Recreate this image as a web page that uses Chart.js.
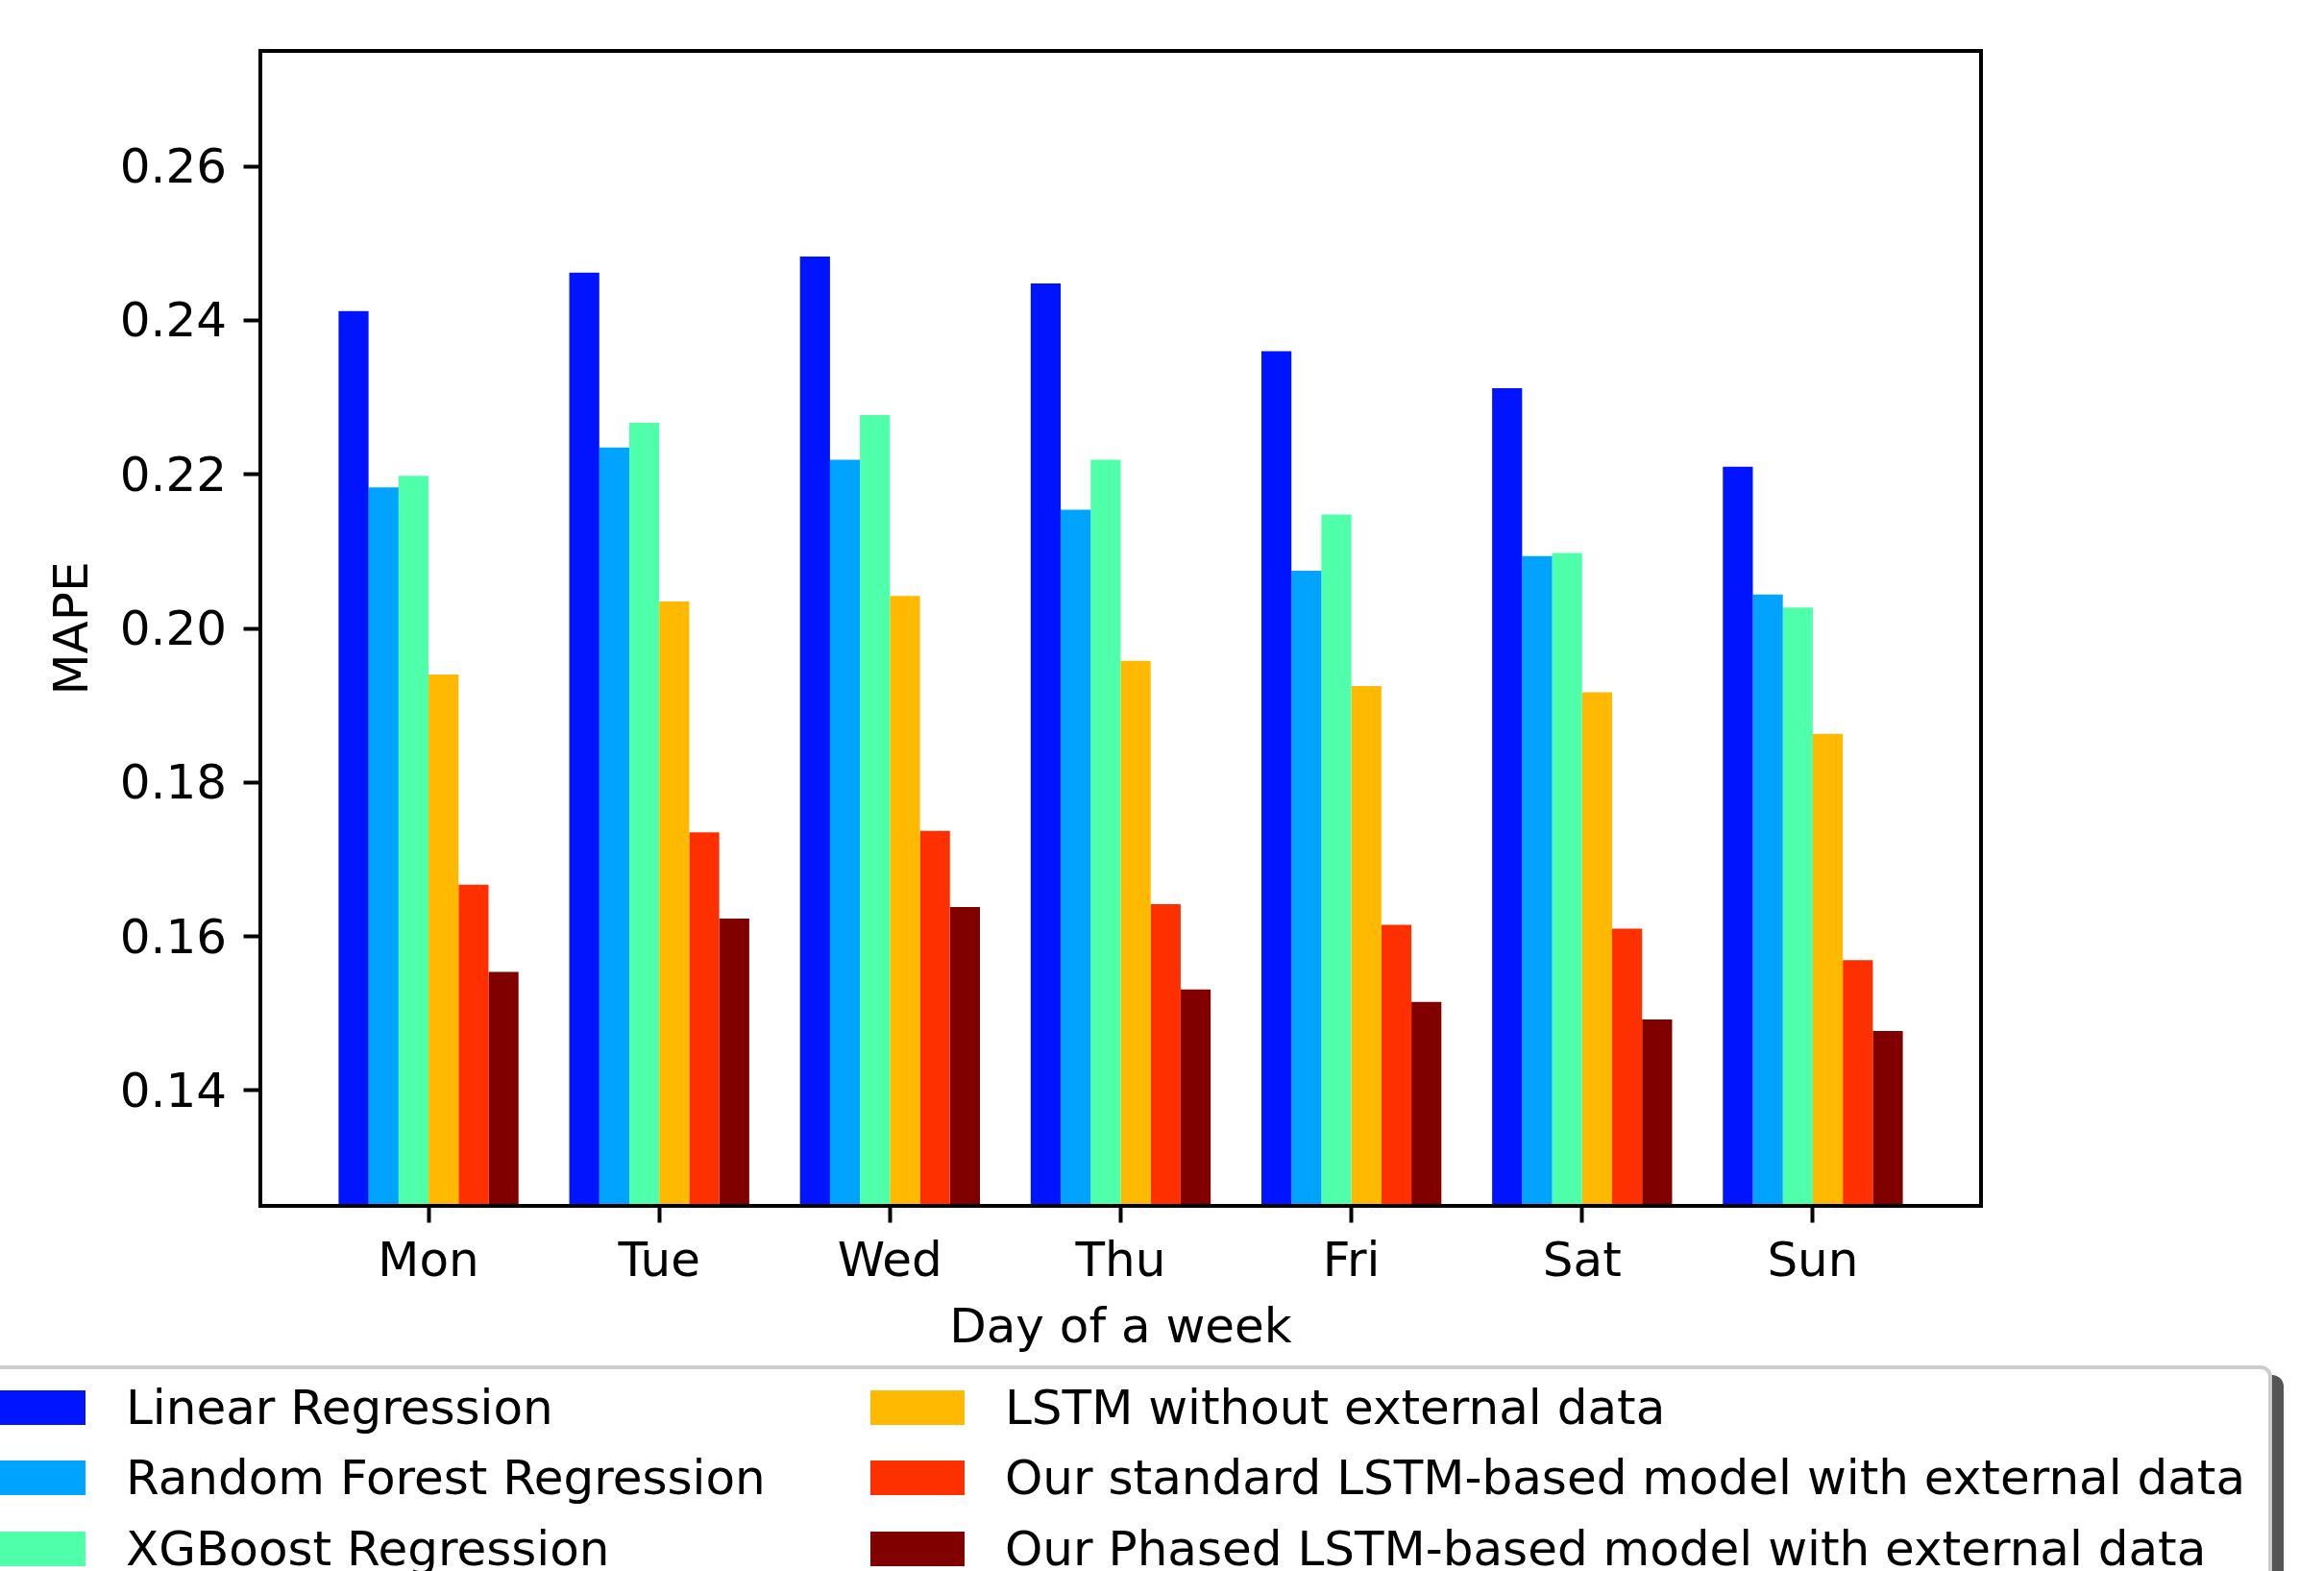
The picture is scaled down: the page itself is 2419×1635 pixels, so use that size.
<!DOCTYPE html>
<html>
<head>
<meta charset="utf-8">
<script src="https://cdn.jsdelivr.net/npm/chart.js@4.4.1/dist/chart.umd.min.js"></script>
<style>
  html, body { margin: 0; padding: 0; background: #fff; overflow: hidden; }
  #wrap { position: relative; width: 2419px; height: 1635px; overflow: hidden; }
  #myChart { display: block; }
  #legend {
    position: absolute; left: -40px; top: 1421px; width: 2405px; height: 260px;
    box-sizing: border-box; border: 4px solid #cccccc; border-radius: 12px;
    background: #fff; box-shadow: 12px 10px 0 #555555;
    font-family: 'DejaVu Sans', sans-serif; font-size: 50px; color: #000;
  }
  .item { position: absolute; display: flex; align-items: center; height: 36px; line-height: 1; white-space: nowrap; }
  .swatch { width: 98px; height: 36px; margin-right: 42px; flex: none; }
</style>
</head>
<body>
<div id="wrap">
  <canvas id="myChart" width="2419" height="1635"></canvas>
  <div id="legend"></div>
</div>
<script>
const days = ['Mon', 'Tue', 'Wed', 'Thu', 'Fri', 'Sat', 'Sun'];

const linearRegression = [0.2412, 0.2462, 0.2483, 0.2448, 0.2360, 0.2312, 0.2210];
const randomForest     = [0.2183, 0.2235, 0.2219, 0.2154, 0.2075, 0.2094, 0.2044];
const xgboost          = [0.2198, 0.2267, 0.2277, 0.2219, 0.2148, 0.2098, 0.2027];
const lstmNoExternal   = [0.1940, 0.2035, 0.2042, 0.1958, 0.1925, 0.1917, 0.1863];
const standardLstm     = [0.1667, 0.1735, 0.1737, 0.1642, 0.1615, 0.1610, 0.1569];
const phasedLstm       = [0.1554, 0.1623, 0.1638, 0.1531, 0.1515, 0.1492, 0.1477];

const seriesNames = [
  'Linear Regression',
  'Random Forest Regression',
  'XGBoost Regression',
  'LSTM without external data',
  'Our standard LSTM-based model with external data',
  'Our Phased LSTM-based model with external data'
];
const seriesValues = [linearRegression, randomForest, xgboost, lstmNoExternal, standardLstm, phasedLstm];
const seriesColors = ['#0014ff', '#00a4ff', '#50ffaa', '#ffb900', '#ff3000', '#800000'];

const yTicks = [0.14, 0.16, 0.18, 0.20, 0.22, 0.24, 0.26];

Chart.defaults.font.family = "'DejaVu Sans', sans-serif";
Chart.defaults.font.size = 50;
Chart.defaults.color = '#000';

// top and right spines
const frame = {
  id: 'frame',
  afterDraw(chart) {
    const { ctx, chartArea } = chart;
    ctx.save();
    ctx.strokeStyle = '#000';
    ctx.lineWidth = 4;
    ctx.beginPath();
    ctx.moveTo(chartArea.left - 2, chartArea.top);
    ctx.lineTo(chartArea.right, chartArea.top);
    ctx.lineTo(chartArea.right, chartArea.bottom + 2);
    ctx.stroke();
    ctx.restore();
  }
};

const axisGrid = {
  display: true,
  offset: false,
  drawOnChartArea: false,
  drawTicks: true,
  tickLength: 17.5,
  tickWidth: 4,
  tickColor: '#000'
};
const axisBorder = { display: true, color: '#000', width: 4, z: 1 };

const ctx = document.getElementById('myChart');
const chart = new Chart(ctx, {
  type: 'bar',
  data: {
    datasets: seriesNames.map((name, i) => ({
      label: name,
      data: seriesValues[i].map((v, j) => ({ x: j, y: v })),
      backgroundColor: seriesColors[i],
      borderWidth: 0
    }))
  },
  options: {
    responsive: false,
    animation: false,
    layout: { padding: { left: 0, top: 53, right: 357, bottom: 221 } },
    datasets: { bar: { categoryPercentage: 0.78, barPercentage: 1.0 } },
    plugins: {
      legend: { display: false },
      tooltip: { enabled: false }
    },
    scales: {
      x: {
        type: 'linear',
        min: -0.729,
        max: 6.729,
        offset: false,
        grid: axisGrid,
        border: axisBorder,
        ticks: {
          stepSize: 1,
          includeBounds: false,
          padding: 13,
          maxRotation: 0,
          autoSkip: false,
          callback: (v) => days[v] !== undefined ? days[v] : ''
        },
        title: { display: true, text: 'Day of a week', padding: 0 },
        afterFit: (scale) => { scale.height = 159; }
      },
      y: {
        min: 0.125,
        max: 0.275,
        grid: axisGrid,
        border: axisBorder,
        afterBuildTicks: (scale) => { scale.ticks = yTicks.map(v => ({ value: v })); },
        ticks: {
          padding: 17.5,
          labelOffset: 4,
          callback: (v) => Number(v).toFixed(2)
        },
        title: { display: true, text: 'MAPE', padding: { top: 48, bottom: 0 } },
        afterFit: (scale) => { scale.width = 271; }
      }
    }
  },
  plugins: [frame]
});

// legend laid out column-wise like the original (3 rows x 2 columns)
const legendEl = document.getElementById('legend');
const colX = [27, 942];
const rowY = [22, 95, 169];
chart.data.datasets.forEach((ds, i) => {
  const item = document.createElement('div');
  item.className = 'item';
  item.style.left = colX[Math.floor(i / 3)] + 'px';
  item.style.top = rowY[i % 3] + 'px';
  const sw = document.createElement('span');
  sw.className = 'swatch';
  sw.style.background = ds.backgroundColor;
  const txt = document.createElement('span');
  txt.textContent = ds.label;
  item.appendChild(sw);
  item.appendChild(txt);
  legendEl.appendChild(item);
});
</script>
</body>
</html>
